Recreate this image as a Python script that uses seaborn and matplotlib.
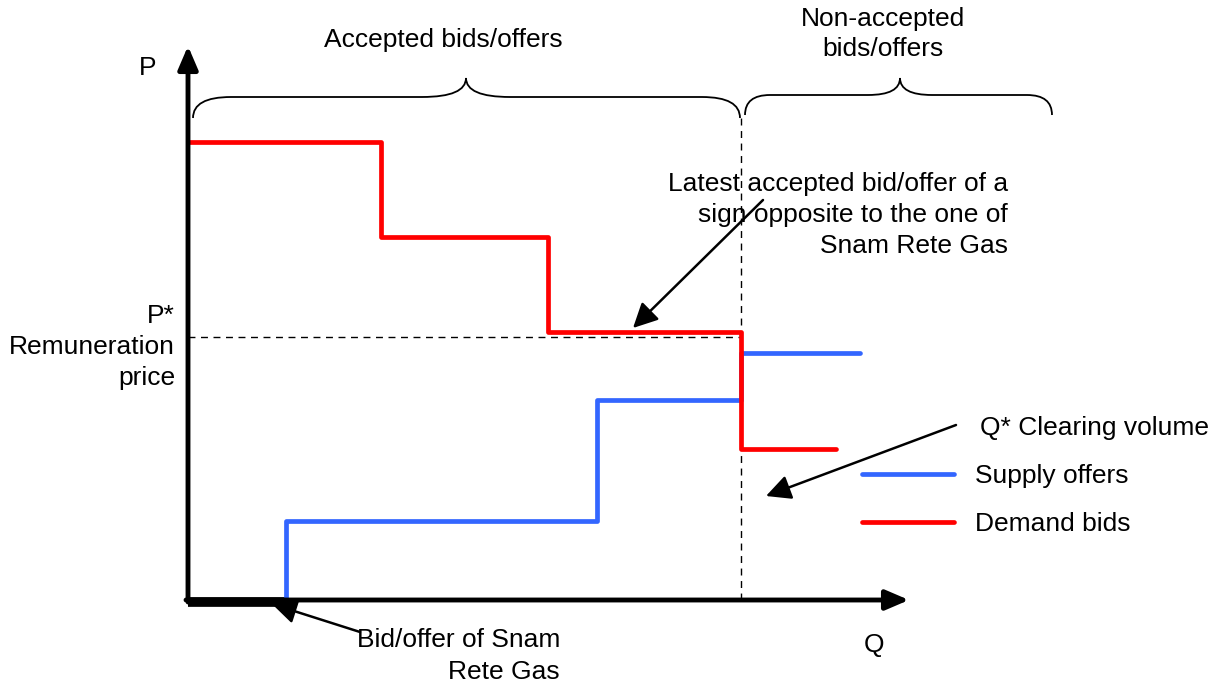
import numpy as np
import pandas as pd
import seaborn as sns
import matplotlib.pyplot as plt
from matplotlib.path import Path
from matplotlib.patches import PathPatch

# step curves of the market (Q along x, P along y, origin at the axes corner)
demand_q = [0, 193, 360, 553, 648]
demand_p = [458, 363, 268, 151, 151]
supply_q = [98, 98, 409, 553, 672]
supply_p = [0, 79, 200, 247, 247]
series_names = ['Supply offers', 'Demand bids']

q_star = 553   # clearing volume
p_star = 263   # remuneration price
snam_q = 98    # bid/offer of Snam Rete Gas

sns.set_theme(style='white')
plt.rcParams['font.family'] = ['Liberation Sans', 'DejaVu Sans']
plt.rcParams['text.color'] = 'black'
FS = 19

df = pd.concat([
    pd.DataFrame({'Q': supply_q, 'P': supply_p, 'series': series_names[0]}),
    pd.DataFrame({'Q': demand_q, 'P': demand_p, 'series': series_names[1]}),
])

fig = plt.figure(figsize=(12.27, 6.92), dpi=100)
ax = fig.add_axes([0, 0, 1, 1])
ax.set_xlim(-188, 1039)
ax.set_ylim(-92, 600)
ax.axis('off')

sns.lineplot(data=df, x='Q', y='P', hue='series', hue_order=series_names,
             palette=['#3366FF', '#FF0000'], drawstyle='steps-post', sort=False,
             estimator=None, lw=3.4, ax=ax, zorder=3)

# dashed guides at P* and Q*
ax.plot([0, q_star], [p_star, p_star], ls=(0, (5, 4)), color='black', lw=1, zorder=2)
ax.plot([q_star, q_star], [0, 482], ls=(0, (5, 4)), color='black', lw=1, zorder=2)

# axes with arrows
axis_arrow = dict(arrowstyle='-|>,head_length=0.7,head_width=0.3', lw=3.5,
                  color='black', mutation_scale=20, shrinkA=0, shrinkB=0)
ax.annotate('', xy=(0, 554), xytext=(0, -2), arrowprops=axis_arrow)
ax.annotate('', xy=(721, 0), xytext=(-2, 0), arrowprops=axis_arrow)
ax.plot([0, snam_q], [-2, -2], color='black', lw=7, solid_capstyle='butt')


def brace(x0, x1, tip, y_end, y_flat, y_tip, r_end, r_tip):
    verts = [(x0, y_end), (x0, y_flat), (x0 + r_end, y_flat),
             (tip - r_tip, y_flat), (tip, y_flat), (tip, y_tip),
             (tip, y_flat), (tip + r_tip, y_flat),
             (x1 - r_end, y_flat), (x1, y_flat), (x1, y_end)]
    codes = [Path.MOVETO, Path.CURVE3, Path.CURVE3,
             Path.LINETO, Path.CURVE3, Path.CURVE3,
             Path.CURVE3, Path.CURVE3,
             Path.LINETO, Path.CURVE3, Path.CURVE3]
    ax.add_patch(PathPatch(Path(verts, codes), fill=False, lw=1.3, color='black'))


brace(5, 552, 278, 482, 503, 522, 38, 44)
brace(557, 864, 712, 485, 505, 522, 25, 32)

ax.text(255, 560, 'Accepted bids/offers', fontsize=FS, ha='center', va='center')
ax.text(695, 566, 'Non-accepted\nbids/offers', fontsize=FS, ha='center', va='center',
        linespacing=1.3)
ax.text(-40, 532, 'P', fontsize=FS, ha='center', va='center')
ax.text(-13, 253, 'P*\nRemuneration\nprice', fontsize=FS, ha='right', va='center',
        multialignment='right', linespacing=1.38)
ax.text(686, -45, 'Q', fontsize=FS, ha='center', va='center')
ax.text(792, 172, 'Q* Clearing volume', fontsize=FS, ha='left', va='center')
ax.text(820, 385, 'Latest accepted bid/offer of a\nsign opposite to the one of\nSnam Rete Gas',
        fontsize=FS, ha='right', va='center', multialignment='right', linespacing=1.38)
ax.text(372, -56, 'Bid/offer of Snam\nRete Gas', fontsize=FS, ha='right', va='center',
        multialignment='right', linespacing=1.38)

arrow = dict(arrowstyle='-|>,head_length=0.6,head_width=0.3', lw=1.8, color='black',
             mutation_scale=25, shrinkA=0, shrinkB=0)
ax.annotate('', xy=(445, 272), xytext=(575, 400), arrowprops=arrow)
ax.annotate('', xy=(578, 104), xytext=(768, 175), arrowprops=arrow)
ax.annotate('', xy=(84, -4), xytext=(172, -32), arrowprops=arrow)

sns.move_legend(ax, 'upper left', bbox_to_anchor=(674, 136), bbox_transform=ax.transData,
                frameon=False, title=None, fontsize=FS, handlelength=3.5,
                handletextpad=0.8, labelspacing=0.92, borderpad=0, borderaxespad=0)

fig.savefig('out.png', dpi=100)
